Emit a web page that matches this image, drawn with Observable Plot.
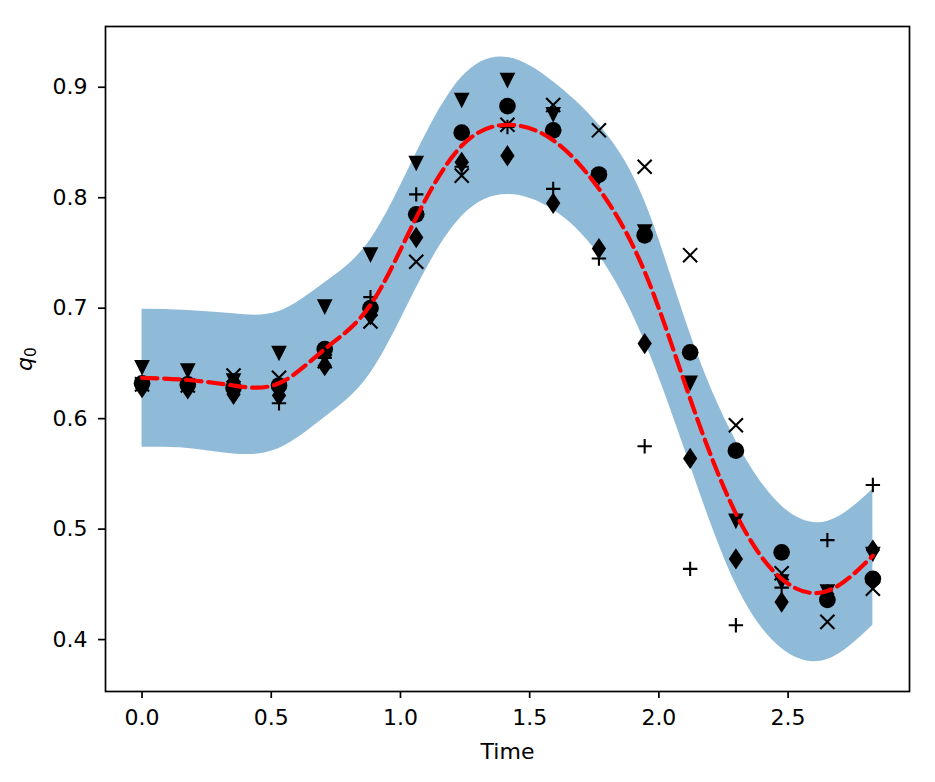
<!DOCTYPE html>
<html><head><meta charset="utf-8">
<script src="https://cdn.jsdelivr.net/npm/d3@7"></script>
<script src="https://cdn.jsdelivr.net/npm/@observablehq/plot@0.6"></script>
<style>html,body{margin:0;padding:0;background:#fff}</style>
</head><body><div id="chart"></div>
<script>
// Time points
const time = [0, 0.177, 0.354, 0.530, 0.707, 0.884, 1.061, 1.237, 1.414, 1.591, 1.768, 1.945, 2.121, 2.298, 2.475, 2.652, 2.828];
// Predictive mean (red dashed) and band
const meanCurve = [0.637, 0.635, 0.630, 0.632, 0.663, 0.703, 0.782, 0.847, 0.866, 0.852, 0.808, 0.733, 0.618, 0.514, 0.455, 0.444, 0.476];
const bandUpper = [0.699, 0.698, 0.695, 0.697, 0.723, 0.762, 0.840, 0.909, 0.927, 0.905, 0.866, 0.797, 0.677, 0.580, 0.521, 0.507, 0.536];
const bandLower = [0.574, 0.573, 0.568, 0.573, 0.601, 0.641, 0.718, 0.783, 0.803, 0.789, 0.748, 0.670, 0.558, 0.450, 0.392, 0.382, 0.413];
// Observations, one series per marker
const obsCircle   = [0.632, 0.631, 0.628, 0.630, 0.663, 0.700, 0.785, 0.859, 0.883, 0.861, 0.821, 0.766, 0.660, 0.571, 0.479, 0.436, 0.455];
const obsTriangle = [0.646, 0.643, 0.634, 0.659, 0.701, 0.748, 0.831, 0.888, 0.906, 0.875, 0.818, 0.769, 0.632, 0.507, 0.452, 0.443, 0.477];
const obsPlus     = [0.632, 0.630, 0.630, 0.614, 0.655, 0.710, 0.803, 0.828, 0.864, 0.808, 0.745, 0.575, 0.464, 0.413, 0.447, 0.490, 0.540];
const obsCross    = [0.631, 0.630, 0.639, 0.637, 0.652, 0.688, 0.742, 0.820, 0.866, 0.884, 0.861, 0.828, 0.748, 0.594, 0.460, 0.416, 0.446];
const obsDiamond  = [0.628, 0.627, 0.622, 0.621, 0.648, 0.694, 0.764, 0.832, 0.838, 0.795, 0.754, 0.668, 0.564, 0.473, 0.434, 0.441, 0.481];
// Ticks
const xTicks = [0, 0.5, 1.0, 1.5, 2.0, 2.5];
const yTicks = [0.4, 0.5, 0.6, 0.7, 0.8, 0.9];

const rows = time.map((t, i) => ({
  t, mean: meanCurve[i], hi: bandUpper[i], lo: bandLower[i],
  circle: obsCircle[i], tri: obsTriangle[i], plus: obsPlus[i], cross: obsCross[i], diamond: obsDiamond[i]
}));

const rad = (size) => Math.sqrt(size / Math.PI);
const symCircle = {draw(ctx, size) { const s = rad(size) * 1.044; ctx.moveTo(s, 0); ctx.arc(0, 0, s, 0, 2 * Math.PI); ctx.closePath(); }};
const symTriDown = {draw(ctx, size) { const s = rad(size) * 0.98; ctx.moveTo(-s, -s); ctx.lineTo(s, -s); ctx.lineTo(0, s); ctx.closePath(); }};
const symThinDiamond = {draw(ctx, size) { const s = rad(size); const w = 0.894 * s, h = 1.33 * s; ctx.moveTo(0, -h); ctx.lineTo(w, 0); ctx.lineTo(0, h); ctx.lineTo(-w, 0); ctx.closePath(); }};
const symPlus = {draw(ctx, size) { const s = rad(size) * 0.9; ctx.moveTo(-s, 0); ctx.lineTo(s, 0); ctx.moveTo(0, -s); ctx.lineTo(0, s); }};
const symCross = {draw(ctx, size) { const s = rad(size) * 0.88; ctx.moveTo(-s, -s); ctx.lineTo(s, s); ctx.moveTo(-s, s); ctx.lineTo(s, -s); }};

const fmt = d3.format(".1f");
const chart = Plot.plot({
  width: 935, height: 782,
  marginLeft: 105, marginRight: 26, marginTop: 26, marginBottom: 91,
  style: {fontFamily: "DejaVu Sans", fontSize: "22px", background: "white", color: "black"},
  x: {domain: [-0.1414, 2.9698]},
  y: {domain: [0.353, 0.955]},
  marks: [
    Plot.areaY(rows, {x: "t", y1: "lo", y2: "hi", fill: "#1f77b4", fillOpacity: 0.5, curve: "natural"}),
    Plot.dot(rows, {x: "t", y: "circle", symbol: symCircle, r: 8, fill: "black", stroke: "none"}),
    Plot.dot(rows, {x: "t", y: "tri", symbol: symTriDown, r: 8, fill: "black", stroke: "none"}),
    Plot.dot(rows, {x: "t", y: "plus", symbol: symPlus, r: 8, fill: "none", stroke: "black", strokeWidth: 2.1}),
    Plot.dot(rows, {x: "t", y: "cross", symbol: symCross, r: 8, fill: "none", stroke: "black", strokeWidth: 2.1}),
    Plot.dot(rows, {x: "t", y: "diamond", symbol: symThinDiamond, r: 8, fill: "black", stroke: "none"}),
    Plot.line(rows, {x: "t", y: "mean", stroke: "#ff0000", strokeWidth: 4.2, strokeDasharray: "15.4,6.7", curve: "natural"}),
    Plot.frame({stroke: "black", strokeWidth: 1.7}),
    Plot.axisX({ticks: xTicks, tickFormat: fmt, tickSize: 7, tickPadding: 11, strokeWidth: 1.7, fontSize: 22,
      label: "Time", labelAnchor: "center", labelOffset: 67, labelArrow: "none"}),
    Plot.axisY({ticks: yTicks, tickFormat: fmt, tickSize: 7, tickPadding: 11, strokeWidth: 1.7, fontSize: 22,
      label: "q0", labelAnchor: "center", labelOffset: 89, labelArrow: "none"})
  ]
});
document.getElementById("chart").appendChild(chart);

// Label text styling (matplotlib-like math label q_0)
const xl = chart.querySelector('g[aria-label="x-axis label"] text');
if (xl) xl.textContent = "Time";
const yl = chart.querySelector('g[aria-label="y-axis label"] text');
if (yl) {
  yl.textContent = "";
  const ns = "http://www.w3.org/2000/svg";
  const q = document.createElementNS(ns, "tspan");
  q.setAttribute("font-style", "italic");
  q.textContent = "q";
  const sub = document.createElementNS(ns, "tspan");
  sub.setAttribute("font-size", "15.4px");
  sub.setAttribute("dy", "4");
  sub.textContent = "0";
  yl.appendChild(q); yl.appendChild(sub);
}
</script>
</body></html>
